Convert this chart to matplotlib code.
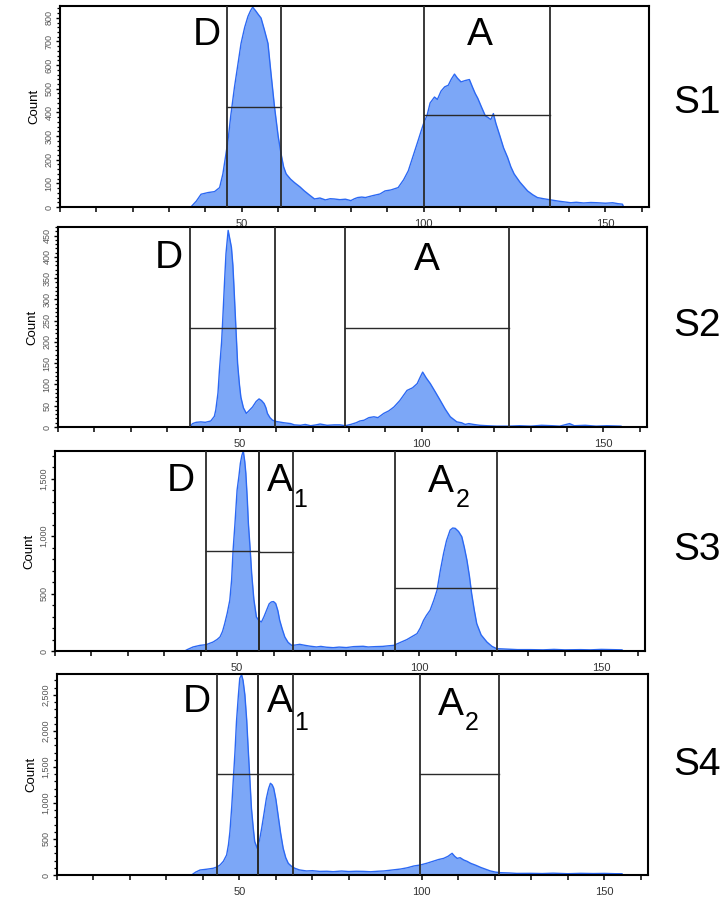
import numpy as np
import matplotlib
matplotlib.use("Agg")
import matplotlib.pyplot as plt
from matplotlib.ticker import MultipleLocator, FixedLocator, FuncFormatter

plt.rcParams['font.family'] = ['Liberation Sans', 'DejaVu Sans']

# ---- histogram data (channel, count) ----
s1_x = [36, 37.5, 38.8, 40.7, 42.5, 43.9, 44.8, 45.5, 46.2, 47, 48, 49, 49.8, 50.8, 51.7, 52.4, 53,
        53.8, 54.5, 55.3, 56.2, 57.2, 58, 59, 60, 60.8, 61.5, 62.2, 63.4, 64.5, 66, 67.2, 68.5, 70,
        71.5, 73, 74.3, 75.4, 77, 78.5, 80, 81, 81.9, 83, 84, 86, 88, 89.4, 91, 93, 94.5, 95.8, 97,
        98.5, 99.3, 100, 101, 101.8, 103, 103.8, 104.8, 105.8, 106.8, 107.6, 108.5, 109.3, 110.3,
        111.5, 112.6, 113.5, 114.2, 114.9, 116, 117, 117.6, 118.5, 119.2, 119.9, 121, 122, 123.1,
        124, 124.9, 126.5, 128.6, 130, 131.3, 133, 135, 137, 138.5, 140.5, 142, 144, 146, 147.8,
        150, 152, 153.5, 154.7, 155]
s1_count = [0, 25, 54, 61, 65, 82, 140, 210, 281, 390, 508, 610, 692, 760, 806, 830, 845,
            830, 815, 799, 750, 692, 570, 423, 300, 225, 170, 140, 118, 103, 85, 68, 52, 34,
            38, 30, 35, 34, 31, 33, 27, 35, 40, 42, 40, 48, 55, 68, 72, 82, 115, 153, 210,
            281, 320, 353, 390, 440, 465, 455, 490, 508, 515, 540, 562, 545, 529,
            535, 539, 505, 480, 460, 420, 385, 380, 370, 395, 353, 300, 250, 210,
            170, 140, 105, 68, 52, 40, 35, 30, 25, 22, 18, 20, 17, 19, 18,
            16, 18, 14, 12, 0]

s2_x = [36.3, 37, 38, 39.3, 40.5, 42, 43, 43.4, 44, 44.4, 45, 45.3, 45.8, 46.2, 46.8, 47.3, 47.7,
        48.1, 48.4, 49, 49.4, 49.9, 50.3, 51, 51.8, 52.5, 53.5, 54.5, 55.3, 56, 56.7, 57.2, 57.6,
        58.3, 59, 60, 62.1, 64, 65, 66.7, 68, 69.5, 71, 72.1, 74, 76, 77.6, 79, 80.5, 82, 83, 84.2,
        85.5, 86.9, 88, 89.6, 91, 92.4, 94, 96, 97.5, 98.8, 99.5, 100.3, 101.3, 102.4, 103.8, 105.1,
        106.5, 107.9, 109.7, 111, 112, 113, 114.3, 116, 118, 120.6, 124, 127, 130, 133, 136, 138,
        140.7, 142, 145, 148, 151, 154.9, 155]
s2_count = [0, 8, 11, 12, 11, 14, 25, 40, 80, 133, 200, 250, 340, 407, 462, 440, 422,
            380, 329, 220, 149, 100, 70, 45, 32, 38, 47, 60, 66, 62, 55, 45, 32,
            22, 16, 13, 10, 8, 5, 4, 6, 3, 5, 7, 4, 5, 5, 3, 6, 10, 14, 16,
            22, 24, 22, 32, 38, 47, 62, 86, 92, 102, 115, 129, 115, 102, 82, 63,
            42, 24, 12, 10, 6, 8, 6, 4, 3, 2, 2, 3, 2, 4, 3, 2,
            8, 3, 4, 2, 3, 2, 0]

s3_x = [35.6, 36.5, 37.9, 39.8, 41.5, 43.4, 44.5, 45.3, 46, 46.6, 47.3, 48, 48.5, 48.9, 49.4, 50,
        50.5, 50.9, 51.3, 51.7, 52.1, 52.4, 52.8, 53.1, 53.6, 54, 54.6, 55.3, 56, 56.7, 57.4, 58.1,
        58.8, 59.4, 60, 60.6, 61.2, 61.7, 62.4, 63.1, 64, 65, 66, 67.2, 68.5, 70, 71.8, 73, 74.5,
        76.4, 78, 80, 82, 84.6, 86, 88, 90, 91.5, 93, 94.5, 96.6, 98, 99.4, 100.3, 101.2, 102, 103,
        104, 104.9, 105.8, 106.7, 107.5, 108.5, 109.2, 109.9, 110.8, 111.7, 112.4, 113.1, 113.8,
        114.4, 115.1, 115.8, 117, 118.6, 120, 121.3, 123, 125, 127, 130.5, 134, 137, 140, 144.3,
        147, 150, 153, 155.7, 156]
s3_count = [0, 15, 35, 49, 55, 78, 100, 122, 170, 238, 330, 442, 620, 877, 1100, 1400,
            1520, 1633, 1700, 1740, 1650, 1546, 1320, 1110, 880, 674, 450, 296, 265, 253, 300, 355,
            410, 427, 430, 413, 350, 267, 190, 122, 75, 49, 52, 58, 50, 42, 35, 40, 33,
            29, 34, 30, 38, 41, 35, 38, 40, 45, 49, 70, 99, 125, 151, 200, 267, 310, 355,
            440, 529, 700, 849, 960, 1052, 1070, 1067, 1040, 994, 900, 791, 650,
            500, 360, 238, 140, 78, 40, 20, 18, 15, 12, 12, 10, 14, 10, 12,
            10, 14, 12, 10, 0]

s4_x = [36.9, 38, 39.2, 41, 42.8, 43.8, 44.7, 45.6, 46.5, 47, 47.4, 47.9, 48.3, 48.8, 49.2, 49.7,
        50.1, 50.6, 51, 51.5, 52, 52.4, 52.9, 53.3, 53.8, 54.2, 54.9, 55.5, 56.1, 56.8, 57.4, 58,
        58.5, 59, 59.4, 60, 60.6, 61.3, 62, 62.7, 63.4, 64.3, 65.2, 66.5, 68.4, 70, 72, 74, 75.7,
        78, 80, 82, 84, 86, 88, 89.6, 92, 94.2, 96, 97.8, 99.6, 101.5, 103.3, 104.6, 106, 107.2,
        108.3, 109, 109.7, 110.5, 111.5, 112.4, 113.4, 114.8, 116.1, 117.5, 118.8, 120.2, 121.6,
        124, 126, 129.8, 133, 136, 140, 143.5, 147, 150, 153, 154.9, 155]
s4_count = [0, 40, 69, 80, 93, 110, 139, 190, 278, 420, 602, 950, 1296, 1720, 2130, 2480,
            2732, 2780, 2700, 2500, 2150, 1760, 1300, 926, 650, 463, 370, 480, 648, 870, 1065, 1200,
            1273, 1250, 1204, 1050, 833, 580, 370, 240, 162, 120, 93, 70, 56, 60, 50, 52, 46,
            55, 48, 52, 50, 45, 52, 56, 70, 83, 100, 125, 139, 165, 194, 215, 231, 260,
            301, 260, 231, 240, 208, 190, 162, 135, 106, 80, 56, 40, 32,
            28, 22, 23, 20, 25, 18, 23, 20, 22, 18, 18, 0]

# gates: (left, right, marker height, label)
s1_gates = [(46, 60.8, 425, "D"), (100.1, 134.7, 391, "A")]
s2_gates = [(36.3, 59.6, 233, "D"), (79, 124, 233, "A")]
s3_gates = [(41.4, 55.9, 872, "D"), (55.9, 65.4, 860, "A1"), (93.3, 121.3, 544, "A2")]
s4_gates = [(43.9, 55.2, 1403, "D"), (55.2, 64.6, 1403, "A1"), (99.5, 121.1, 1403, "A2")]

sample_names = ["S1", "S2", "S3", "S4"]
x_ticks = [50, 100, 150]

FILL = "#7ca7f7"
EDGE = "#2b68f3"
GATE = "#2a2a2a"
W, H = 728, 899


def px_rect(left, top, right, bottom):
    return [left / W, 1 - bottom / H, (right - left) / W, (bottom - top) / H]


def thousands(v, pos):
    return f"{int(v):,}"


# per panel layout: axes rect in px, ylim, y major/minor step, label positions (x, baseline y)
panels = [
    dict(x=s1_x, y=s1_count, gates=s1_gates, rect=(60, 6, 649, 207), ymax=850, major=100, minor=20,
         labels=[(40.3, 685), (115.5, 685)], sub=[None, None], name_y=103),
    dict(x=s2_x, y=s2_count, gates=s2_gates, rect=(58, 227, 647, 427), ymax=470, major=50, minor=10,
         labels=[(30.5, 373), (101.4, 369)], sub=[None, None], name_y=326),
    dict(x=s3_x, y=s3_count, gates=s3_gates, rect=(55, 451, 645, 651), ymax=1740, major=500, minor=100,
         labels=[(34.5, 1395), (61.7, 1395), (105.9, 1386)],
         sub=[None, (67.4, 1255), (112.0, 1255)], name_y=550),
    dict(x=s4_x, y=s4_count, gates=s4_gates, rect=(57, 674, 648, 875), ymax=2790, major=500, minor=100,
         labels=[(38.4, 2260), (61.1, 2260), (107.9, 2222)],
         sub=[None, (66.8, 2014), (113.7, 2014)], name_y=765),
]

fig = plt.figure(figsize=(W / 100, H / 100), dpi=100)

for i, p in enumerate(panels):
    ax = fig.add_axes(px_rect(*p["rect"]))
    ax.set_facecolor("white")
    ax.fill_between(p["x"], p["y"], 0, color=FILL, lw=0, zorder=1)
    ax.plot(p["x"], p["y"], color=EDGE, lw=1.0, zorder=2)

    for (g0, g1, gh, name), (lx, ly), sub in zip(p["gates"], p["labels"], p["sub"]):
        ax.axvline(g0, color=GATE, lw=1.3, zorder=3)
        ax.axvline(g1, color=GATE, lw=1.3, zorder=3)
        ax.plot([g0, g1], [gh, gh], color=GATE, lw=1.0, zorder=3)
        ax.text(lx, ly, name[0], ha="center", va="baseline", fontsize=28, zorder=4)
        if sub is not None:
            ax.text(sub[0], sub[1], name[1], ha="center", va="baseline", fontsize=18, zorder=4)

    ax.set_xlim(0, 162)
    ax.set_ylim(0, p["ymax"])
    ax.xaxis.set_major_locator(FixedLocator(x_ticks))
    ax.xaxis.set_minor_locator(MultipleLocator(10))
    ax.yaxis.set_major_locator(MultipleLocator(p["major"]))
    ax.yaxis.set_minor_locator(MultipleLocator(p["minor"]))
    if p["major"] >= 500:
        ax.yaxis.set_major_formatter(FuncFormatter(thousands))
    ax.tick_params(axis="x", which="both", direction="out", length=3.6, width=1.1,
                   labelsize=8, labelcolor="#333333", pad=5)
    ax.tick_params(axis="y", which="major", direction="out", length=3.2, width=1.0,
                   labelsize=6.5, labelcolor="#555555", labelrotation=90, pad=1.5)
    ax.tick_params(axis="y", which="minor", direction="out", length=2.4, width=0.9)
    for lbl in ax.get_yticklabels():
        lbl.set_va("center")
    for sp in ax.spines.values():
        sp.set_linewidth(1.5)
    ax.set_ylabel("Count", fontsize=9.5, labelpad=3)

    fig.text(697 / W, 1 - p["name_y"] / H, sample_names[i], ha="center", va="center", fontsize=28)

fig.savefig("out.png", dpi=100)
